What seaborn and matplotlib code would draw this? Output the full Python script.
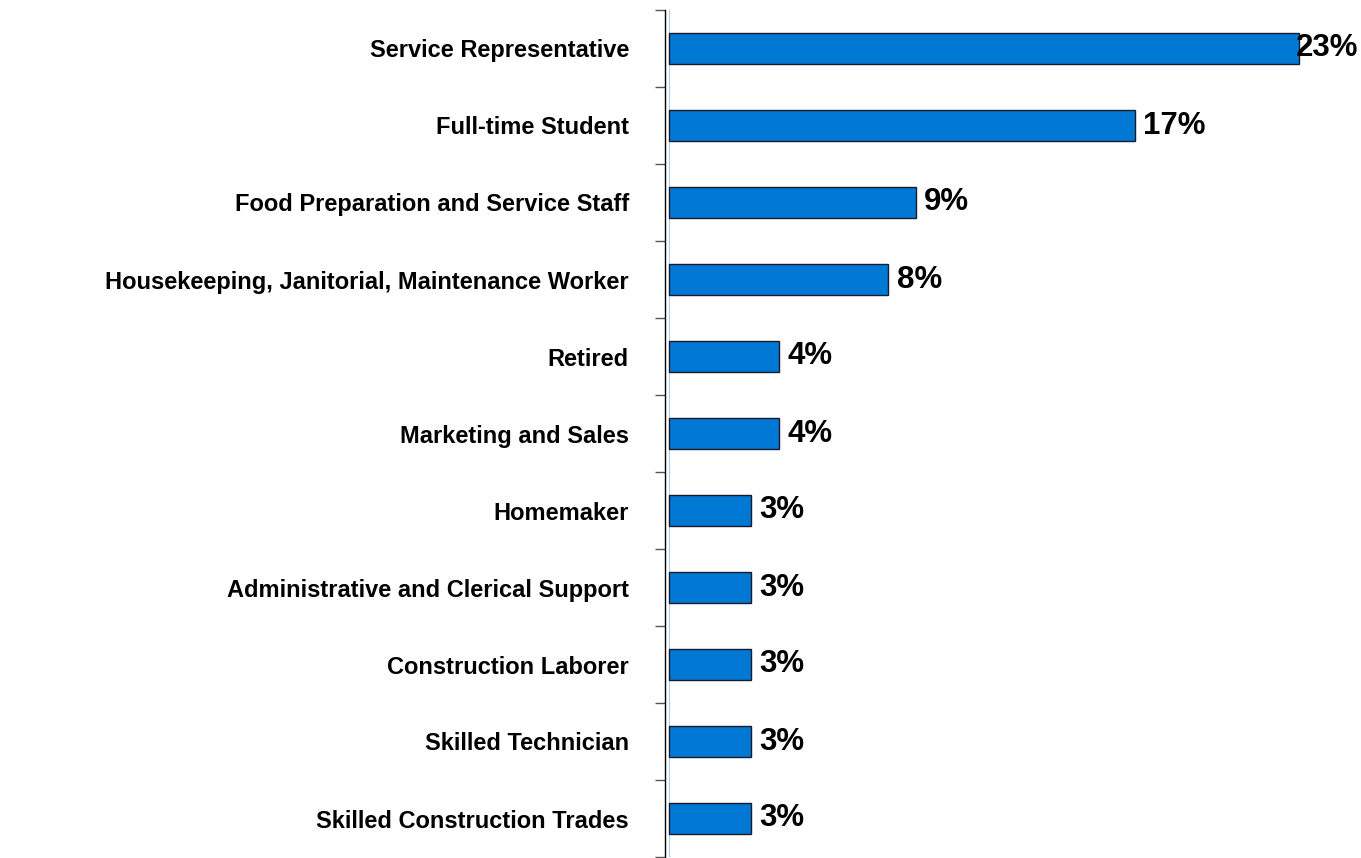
import matplotlib
matplotlib.use("Agg")
import matplotlib.pyplot as plt
import seaborn as sns
import pandas as pd
import numpy as np

categories = [
    "Service Representative",
    "Full-time Student",
    "Food Preparation and Service Staff",
    "Housekeeping, Janitorial, Maintenance Worker",
    "Retired",
    "Marketing and Sales",
    "Homemaker",
    "Administrative and Clerical Support",
    "Construction Laborer",
    "Skilled Technician",
    "Skilled Construction Trades",
]
values = [23, 17, 9, 8, 4, 4, 3, 3, 3, 3, 3]

sns.set_theme(style="white")
plt.rcParams['font.family'] = ['Liberation Sans', 'DejaVu Sans']

df = pd.DataFrame({"category": categories, "value": values})

W, H = 1361, 858
fig = plt.figure(figsize=(W / 100, H / 100), dpi=100)
x0, x1 = 665, 1354
ytop, ybot = 10, 857
ax = fig.add_axes([x0 / W, 1 - ybot / H, (x1 - x0) / W, (ybot - ytop) / H])

sns.barplot(data=df, y="category", x="value", orient="h", ax=ax,
            color="#0078D4", saturation=1, width=0.41,
            edgecolor="#1a1a2e", linewidth=1.0)

xmax = 25.0
ax.set_xlim(-0.15, xmax)
ax.set_ylim(len(categories) - 0.5, -0.5)
ax.axvline(0, color="#a8d0f0", lw=0.8, zorder=0)

for s in ["top", "right", "bottom"]:
    ax.spines[s].set_visible(False)
ax.spines["left"].set_color("black")
ax.spines["left"].set_linewidth(1.0)

ax.set_xticks([])
ax.set_yticks(range(len(categories)))
ax.set_yticklabels(categories, fontsize=17, fontweight="bold", color="black")
ax.tick_params(axis="y", which="major", length=0, pad=26)
ax.set_yticks(np.arange(-0.5, len(categories)), minor=True)
ax.tick_params(axis="y", which="minor", length=7, width=1, color="#555555", left=True)
ax.set_xlabel("")
ax.set_ylabel("")

fig.canvas.draw()
renderer = fig.canvas.get_renderer()
for i, v in enumerate(values):
    t = ax.annotate(f"{v}%", xy=(v, i), xytext=(6, 0), textcoords="offset points",
                    ha="left", va="center", fontsize=22.5, fontweight="bold", color="black")
    bb = t.get_window_extent(renderer)
    if bb.x1 > W - 4:
        t.remove()
        ax.annotate(f"{v}%", xy=(1.0, i), xycoords=("axes fraction", "data"),
                    xytext=(3, 0), textcoords="offset points",
                    ha="right", va="center", fontsize=22.5, fontweight="bold",
                    color="black", annotation_clip=False)

fig.savefig("out.png", dpi=100)
